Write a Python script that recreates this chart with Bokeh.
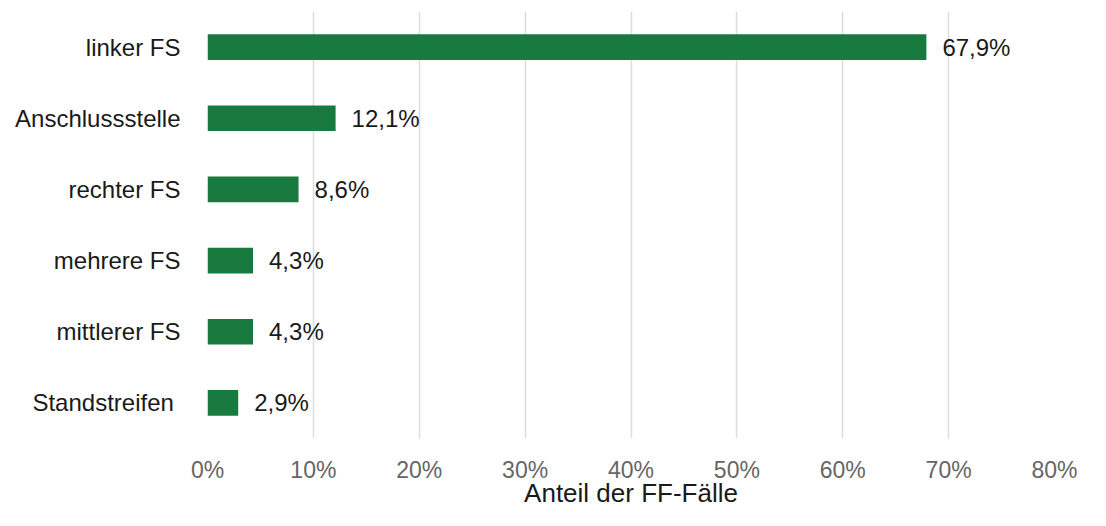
from bokeh.plotting import figure
from bokeh.models import ColumnDataSource, FactorRange, Range1d, FixedTicker, CustomJSTickFormatter
from bokeh.embed import file_html
from bokeh.resources import INLINE
from bokeh.core.properties import value

categories = ["linker FS", "Anschlussstelle", "rechter FS", "mehrere FS", "mittlerer FS", "Standstreifen "]
shares = [67.9, 12.1, 8.6, 4.3, 4.3, 2.9]
labels = ["67,9%", "12,1%", "8,6%", "4,3%", "4,3%", "2,9%"]
ticks = [0, 10, 20, 30, 40, 50, 60, 70, 80]
x_title = "Anteil der FF-Fälle"

FONT = "Liberation Sans"

src = ColumnDataSource(dict(cat=categories, val=shares, lab=labels))

p = figure(
    width=1090, height=510,
    y_range=FactorRange(*reversed(categories), range_padding=0),
    x_range=Range1d(0, 80),
    output_backend="svg", toolbar_location=None,
    min_border_left=207, min_border_right=36, min_border_top=11, min_border_bottom=69,
)
p.outline_line_color = None
p.background_fill_color = "white"
p.border_fill_color = "white"

p.hbar(y="cat", left=0, right="val", height=0.36, source=src,
       fill_color="#187a3e", line_color=None)

p.text(x="val", y="cat", text="lab", source=src, x_offset=16,
       text_baseline="middle", text_align="left",
       text_font=value(FONT), text_font_size="24px", text_color="#1a1a1a")

# x axis
xa = p.xaxis[0]
xa.ticker = FixedTicker(ticks=ticks)
xa.formatter = CustomJSTickFormatter(code="return tick.toFixed(0) + '%';")
xa.axis_line_color = None
xa.major_tick_line_color = None
xa.minor_tick_line_color = None
xa.major_label_text_font = FONT
xa.major_label_text_font_size = "23px"
xa.major_label_text_color = "#666666"
xa.major_label_standoff = 12
xa.axis_label = x_title
xa.axis_label_text_font = FONT
xa.axis_label_text_font_size = "26px"
xa.axis_label_text_font_style = "normal"
xa.axis_label_text_color = "#1a1a1a"
xa.axis_label_standoff = -8

# y axis
ya = p.yaxis[0]
ya.axis_line_color = None
ya.major_tick_line_color = None
ya.minor_tick_line_color = None
ya.major_label_text_font = FONT
ya.major_label_text_font_size = "24px"
ya.major_label_text_color = "#1a1a1a"
ya.major_label_standoff = 21

p.xgrid.grid_line_color = "#dcdcdc"
p.xgrid.grid_line_width = 1.5
p.ygrid.grid_line_color = None

open("out.html", "w").write(file_html(p, INLINE))
